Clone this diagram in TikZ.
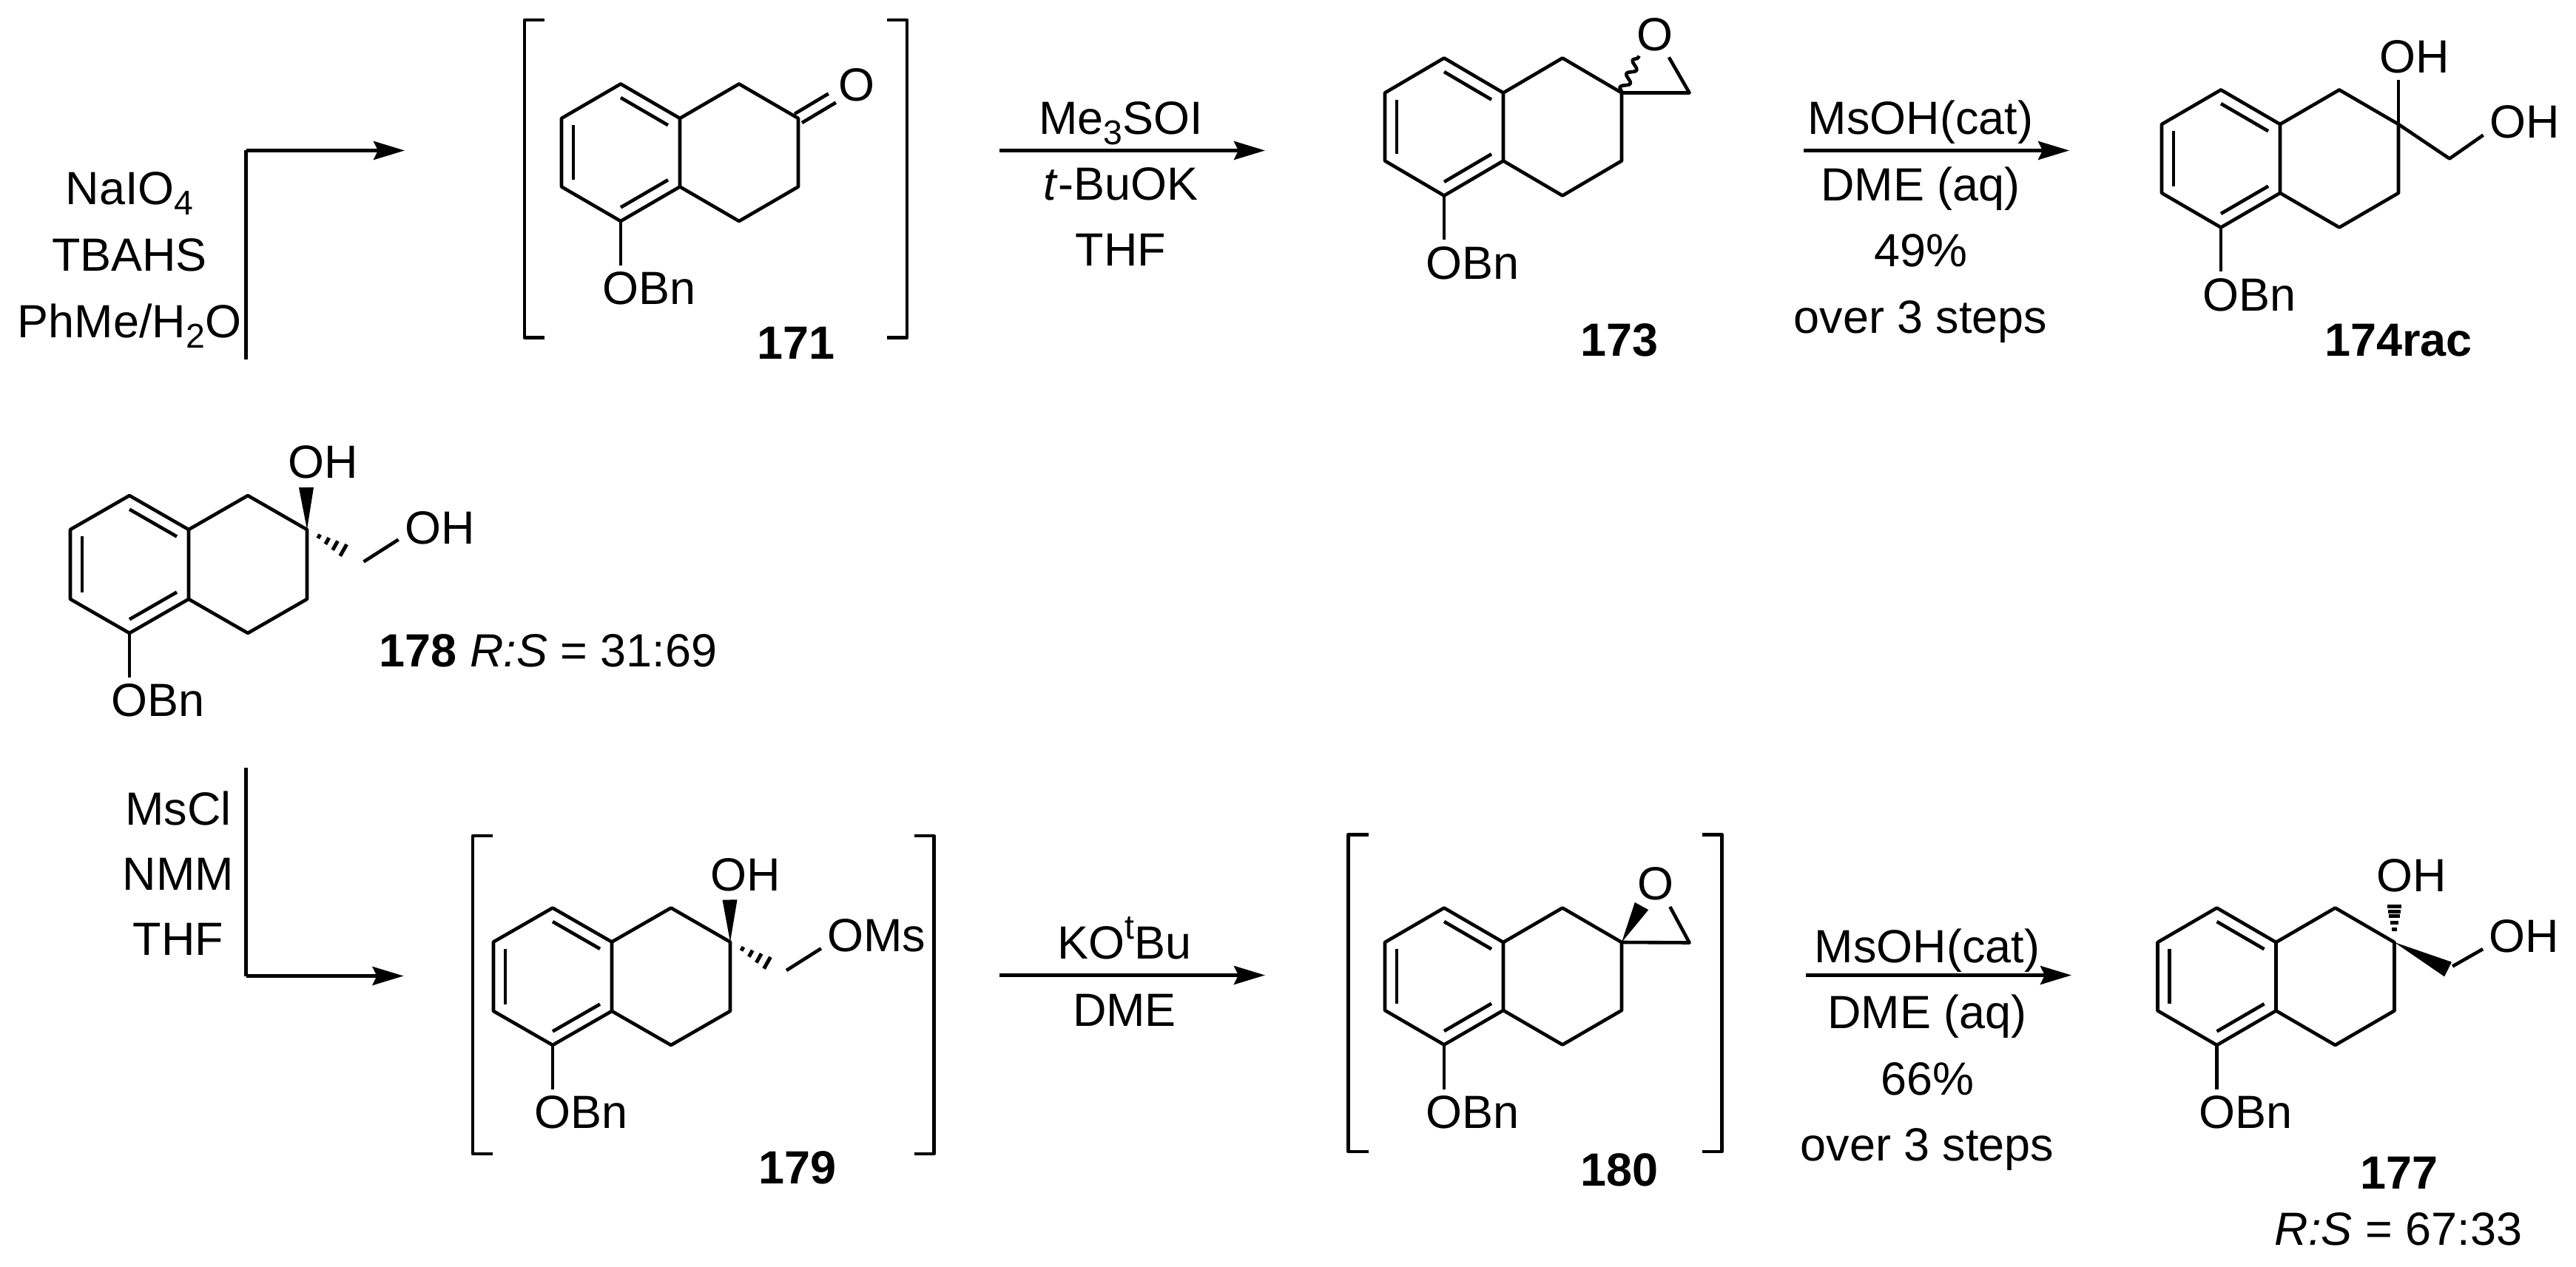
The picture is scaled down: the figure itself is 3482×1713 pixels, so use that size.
\documentclass[tikz,border=0pt]{standalone}
\usepackage{fontspec}
\setmainfont{Liberation Sans}
\usetikzlibrary{calc,arrows.meta,decorations.pathmorphing}
\tikzset{
    bond/.style={line width=.046cm,line join=round},
    rxnarrow/.style={line width=.046cm,-{Stealth[length=.42cm,width=.25cm,inset=.06cm]}},
    atom/.style={inner sep=.08cm,font=\fontsize{17.9}{20}\selectfont},
    reagent/.style={inner sep=0pt,anchor=base,font=\fontsize{17.9}{20}\selectfont},
    cmpd/.style={inner sep=0pt,anchor=base,font=\fontsize{17.9}{20}\selectfont\bfseries},
}
\newcommand\sbs[1]{\raisebox{-.135cm}{\fontsize{13.2}{14}\selectfont #1}}
\newcommand\sps[1]{\raisebox{.26cm}{\fontsize{13.2}{14}\selectfont #1}}
% ring skeleton: name, left x, top y, two heights; OBn hangs below
\newcommand\tetralin[5]{
    \coordinate (#1a) at ({#2+80},{#3});
    \coordinate (#1b) at ({#2},{#3+#4});
    \coordinate (#1c) at ({#2},{#3+#4+#5});
    \coordinate (#1d) at ({#2+80},{#3+2*#4+#5});
    \coordinate (#1e) at ({#2+160},{#3+#4+#5});
    \coordinate (#1f) at ({#2+160},{#3+#4});
    \coordinate (#1g) at ({#2+240},{#3});
    \coordinate (#1h) at ({#2+320},{#3+#4});
    \coordinate (#1i) at ({#2+320},{#3+#4+#5});
    \coordinate (#1j) at ({#2+240},{#3+2*#4+#5});
    \coordinate (#1r) at ({#2+80},{#3+#4+.5*#5});
    \draw[bond] (#1a) -- (#1b) -- (#1c) -- (#1d) -- (#1e) -- (#1f) -- cycle;
    \draw[bond] (#1f) -- (#1g) -- (#1h) -- (#1i) -- (#1j) -- (#1e);
    \draw[bond] ($(#1a)!.2!(#1r)$) -- ($(#1f)!.2!(#1r)$);
    \draw[bond] ($(#1b)!.2!(#1r)$) -- ($(#1c)!.2!(#1r)$);
    \draw[bond] ($(#1d)!.2!(#1r)$) -- ($(#1e)!.2!(#1r)$);
    \node (#1o) [atom,anchor=north west] at ({#2+47},{#3+2*#4+#5+60}) {OBn};
    \draw[bond] (#1d) -- (#1d |- #1o.north);
}
\newcommand\wedgebond[3]{\fill (#1) -- ($(#2)!#3!90:(#1)$) -- ($(#2)!#3!-90:(#1)$) -- cycle;}
\newcommand\hashbond[3]{
    \foreach \t in {#3}
        \draw[line width=.05cm] ($(#1)!\t!(#2)!\t*.11cm!90:(#2)$) -- ($(#1)!\t!(#2)!\t*.11cm!-90:(#2)$);
}
\newcommand\brackets[6]{
    \draw[bond] ({#2+#6},{#4}) -- ({#2},{#4}) -- ({#2},{#5}) -- ({#2+#6},{#5});
    \draw[bond] ({#3-#6},{#4}) -- ({#3},{#4}) -- ({#3},{#5}) -- ({#3-#6},{#5});
}
\newcommand\reagents[5]{
    \foreach \txt [count=\i] in {#5}
        \node (#1\i) [reagent] at ({#2},{#3+#4*(\i-1)}) {\txt};
}
\begin{document}
\begin{tikzpicture}[x=.01cm,y=-.01cm]
    \useasboundingbox (0,0) rectangle (3482,1713);

    % top row
    \reagents{ra}{175}{277}{90}{NaIO\sbs{4},TBAHS,PhMe/H\sbs{2}O}
    \coordinate (sa) at (332.5,486);
    \coordinate (ka) at (332.5,203.5);
    \coordinate (ea) at (547,203.5);
    \draw[bond] (sa) -- (ka);
    \draw[rxnarrow] (ka) -- (ea);

    \brackets{b171}{709}{1226}{27}{456.5}{27}
    \tetralin{m171}{759}{113.5}{46.5}{92.5}
    \node (m171x) [atom] at (1158,115) {O};
    \draw[bond] ([shift={(-5,-6)}]m171h) -- ([shift={(-5,-6)}]m171x.208);
    \draw[bond] ([shift={(5,6)}]m171h) -- ([shift={(5,6)}]m171x.208);
    \node (l171) [cmpd] at (1076,486) {171};

    \reagents{rb}{1515}{182}{89}{Me\sbs{3}SOI,\textit{t}-BuOK,THF}
    \coordinate (sb) at (1351,203.5);
    \coordinate (eb) at (1710,203.5);
    \draw[rxnarrow] (sb) -- (eb);

    \tetralin{m173}{1872}{78.5}{47}{92}
    \node (m173x) [atom] at (2236.5,46.5) {O};
    \coordinate (m173y) at (2283.5,125.5);
    \coordinate (m173w) at (2215.5,75.5);
    \draw[bond] (m173h) -- (m173y) -- (m173x.-58);
    \draw[bond,decorate,decoration={snake,amplitude=.055cm,segment length=.2cm}] (m173h) -- (m173w);
    \node (l173) [cmpd] at (2189,482) {173};

    \reagents{rc}{2596}{182}{89.5}{MsOH(cat),DME (aq),49\%,over 3 steps}
    \coordinate (sc) at (2438,203.5);
    \coordinate (ec) at (2797,203.5);
    \draw[rxnarrow] (sc) -- (ec);

    \tetralin{m174}{2922}{121.5}{46.5}{93}
    \coordinate (m174y) at (3311,214.5);
    \node (m174p) [atom] at (3264,77) {OH};
    \node (m174q) [atom] at (3412.5,164.5) {OH};
    \draw[bond] (m174h) -- (m174h |- m174p.south);
    \draw[bond] (m174h) -- (m174y) -- (m174q.198);
    \node (l174) [cmpd] at (3242,482) {174rac};

    % compound 178
    \tetralin{m178}{95}{670}{46}{94}
    \node (m178p) [atom] at (436.5,625) {OH};
    \node (m178q) [atom] at (594.5,713.5) {OH};
    \coordinate (m178w) at (414,659);
    \coordinate (m178u) at (475,750);
    \coordinate (m178y) at (491.5,759.5);
    \wedgebond{m178h}{m178w}{.1cm}
    \hashbond{m178h}{m178u}{.27,.455,.635,.82,1}
    \draw[bond] (m178y) -- (m178q.196);
    \node (l178) [reagent,anchor=base west] at (512,902) {\textbf{178} \textit{R:S} = 31:69};

    % bottom row
    \reagents{rd}{241}{1115}{88}{MsCl,NMM,THF}
    \coordinate (sd) at (332.5,1038);
    \coordinate (kd) at (332.5,1319.5);
    \coordinate (ed) at (545.5,1319.5);
    \draw[bond] (sd) -- (kd);
    \draw[rxnarrow] (kd) -- (ed);

    \brackets{b179}{639}{1262.5}{1130}{1560}{27}
    \tetralin{m179}{667}{1227.5}{46}{93.5}
    \node (m179p) [atom] at (1008,1182.5) {OH};
    \node (m179q) [atom] at (1185,1265) {OMs};
    \coordinate (m179w) at (986.5,1216.5);
    \coordinate (m179u) at (1048,1308);
    \coordinate (m179y) at (1063,1312);
    \wedgebond{m179h}{m179w}{.1cm}
    \hashbond{m179h}{m179u}{.27,.455,.635,.82,1}
    \draw[bond] (m179y) -- (m179q.193);
    \node (l179) [cmpd] at (1078,1600.5) {179};

    \reagents{re}{1520}{1296}{91.5}{KO\sps{t}Bu,DME}
    \coordinate (se) at (1351,1318.5);
    \coordinate (ee) at (1710,1318.5);
    \draw[rxnarrow] (se) -- (ee);

    \brackets{b180}{1822.5}{2327.5}{1128.5}{1557}{27}
    \tetralin{m180}{1872}{1227.5}{46.5}{92}
    \node (m180x) [atom] at (2238,1195) {O};
    \coordinate (m180y) at (2283.5,1274.5);
    \coordinate (m180w) at (2219,1225);
    \draw[bond] (m180h) -- (m180y) -- (m180x.-58);
    \wedgebond{m180h}{m180w}{.105cm}
    \node (l180) [cmpd] at (2189,1603) {180};

    \reagents{rf}{2605}{1301}{89.5}{MsOH(cat),DME (aq),66\%,over 3 steps}
    \coordinate (sf) at (2441,1318.5);
    \coordinate (ef) at (2800,1318.5);
    \draw[rxnarrow] (sf) -- (ef);

    \tetralin{m177}{2916.5}{1227.5}{46.5}{92.5}
    \node (m177p) [atom] at (3260,1183.5) {OH};
    \node (m177q) [atom] at (3412,1266) {OH};
    \coordinate (m177u) at (3236.5,1219);
    \coordinate (m177w) at (3309,1310.5);
    \coordinate (m177y) at (3315,1306.5);
    \hashbond{m177h}{m177u}{.31,.48,.65,.76,.89,1}
    \wedgebond{m177h}{m177w}{.11cm}
    \draw[bond] (m177y) -- (m177q.197);
    \node (l177) [cmpd] at (3243,1607) {177};
    \node (l177b) [reagent] at (3242,1683.5) {\textit{R:S} = 67:33};
\end{tikzpicture}
\end{document}
